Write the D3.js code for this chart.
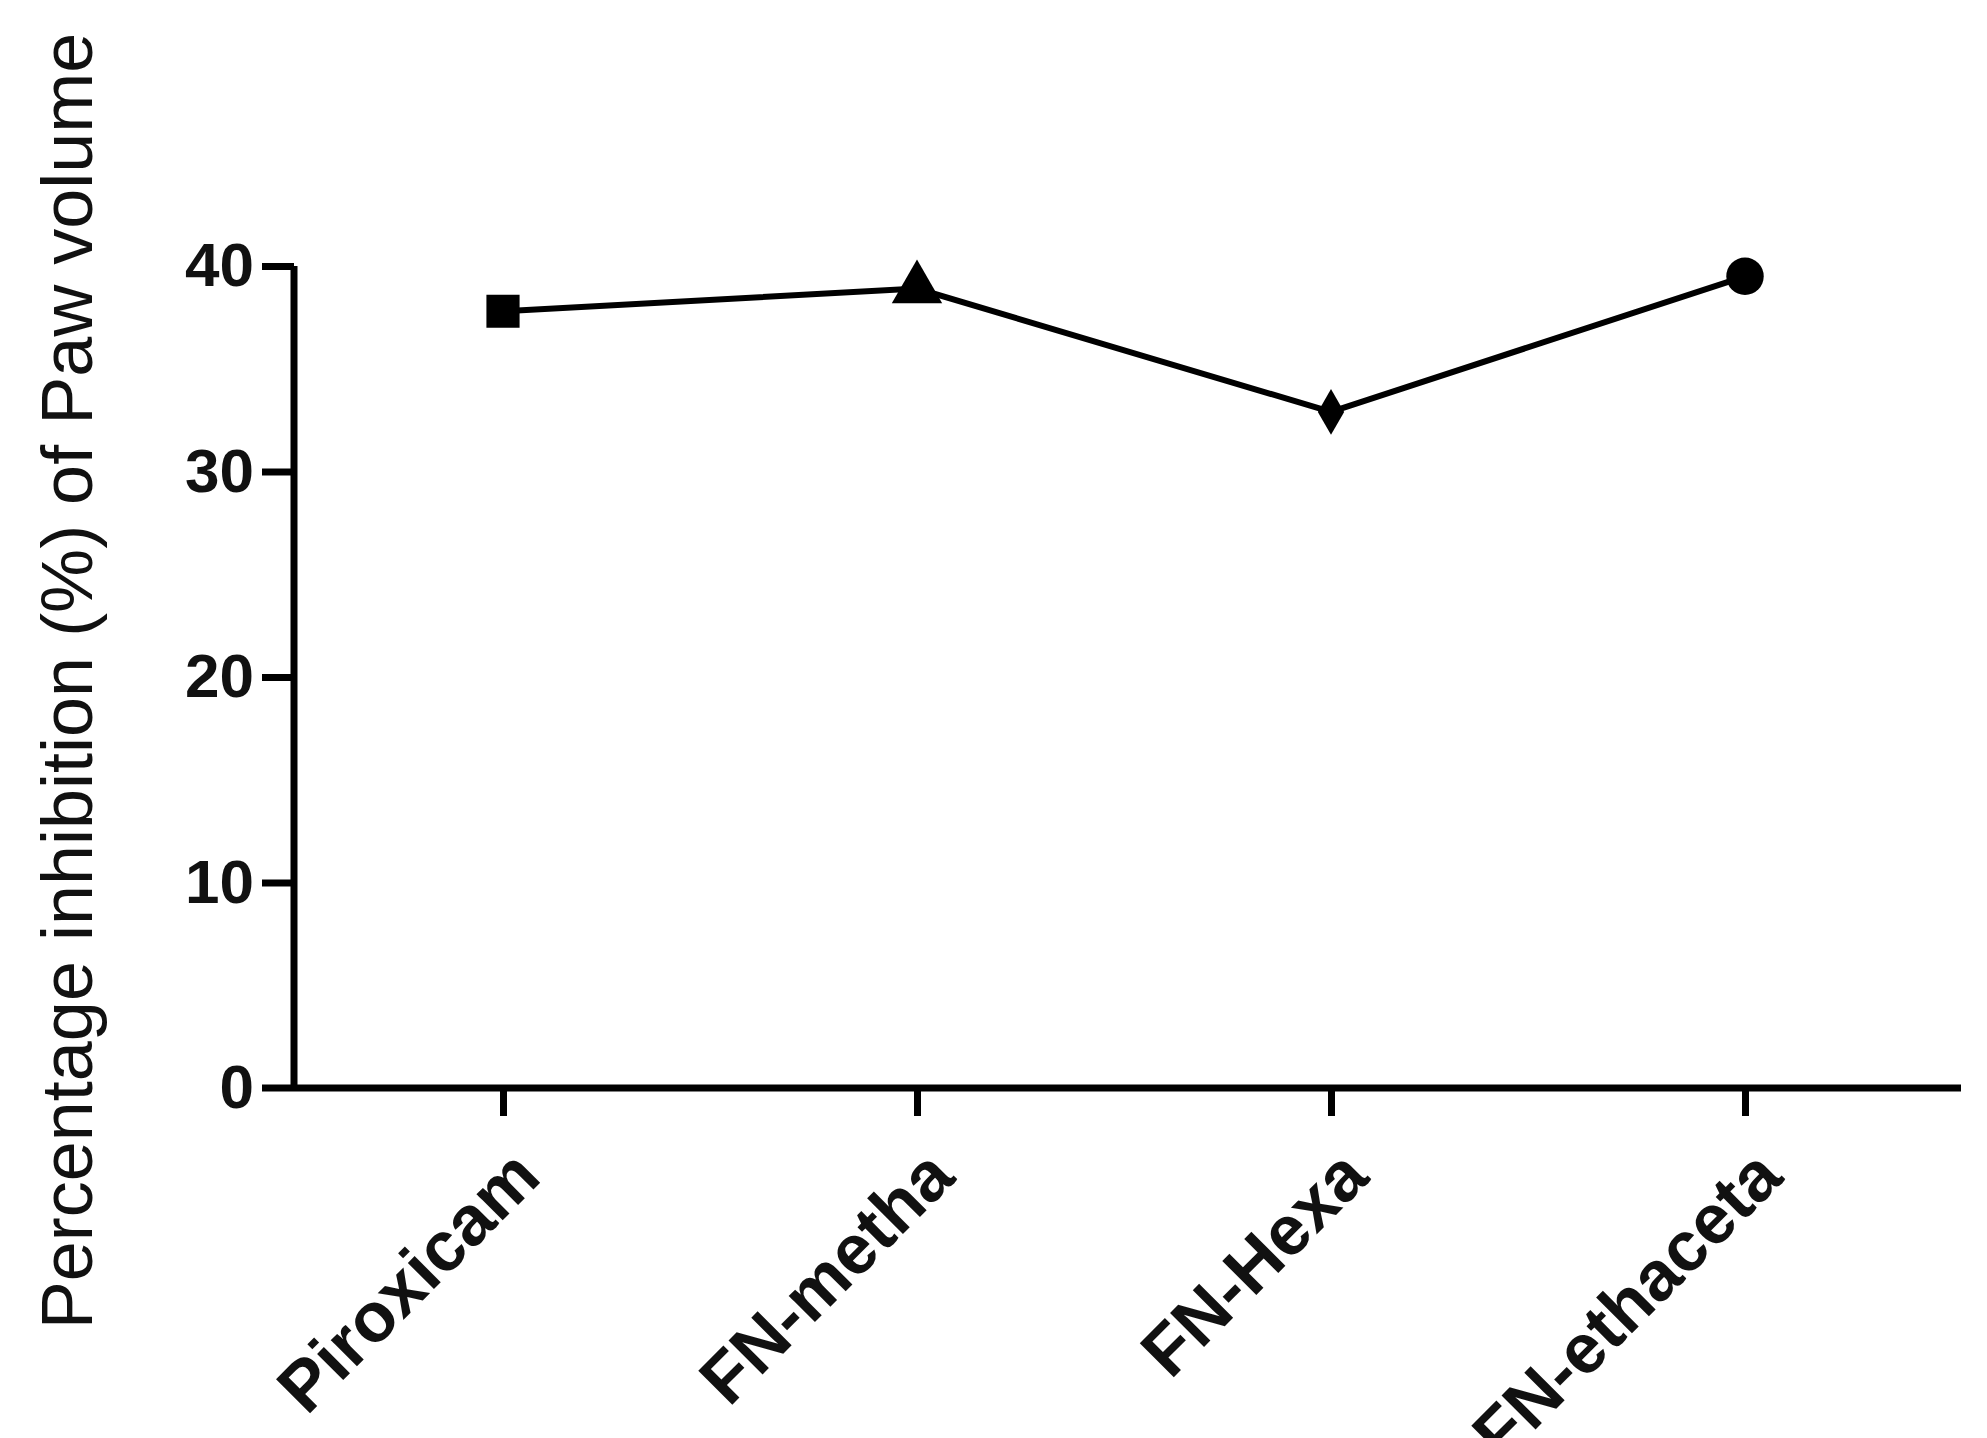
<!DOCTYPE html>
<html><head><meta charset="utf-8">
<script src="https://cdn.jsdelivr.net/npm/d3@7"></script>
<style>body{margin:0;background:#fff}text{font-family:"Liberation Sans",Arial,sans-serif}</style>
</head><body>
<script>
const categories = ['Piroxicam', 'FN-metha', 'FN-Hexa', 'FN-ethaceta']
const values = [37.8, 38.9, 32.9, 39.5]
const shapes = ['square', 'triangle', 'diamond', 'circle']
const yTicks = [0, 10, 20, 30, 40]

const W = 1987, H = 1438
const svg = d3.select('body').append('svg').attr('width', W).attr('height', H)

const x = d3.scalePoint().domain(categories).range([503, 1745])
const y = d3.scaleLinear().domain([0, 40]).range([1088, 266])

// axes
svg.append('line').attr('x1', 294).attr('x2', 294).attr('y1', y(40)).attr('y2', y(0))
  .attr('stroke', '#000').attr('stroke-width', 7)
svg.append('line').attr('x1', 262).attr('x2', 1961).attr('y1', y(0)).attr('y2', y(0))
  .attr('stroke', '#000').attr('stroke-width', 7)

const ya = svg.append('g').attr('transform', 'translate(294,0)')
  .call(d3.axisLeft(y).tickValues(yTicks).tickSize(32).tickPadding(8))
ya.select('.domain').remove()
ya.selectAll('line').attr('stroke-width', 7)
ya.selectAll('text').attr('font-size', 62).attr('font-weight', 'bold').attr('fill', '#111')
ya.select('.tick:first-of-type line').remove()

const xa = svg.append('g').attr('transform', `translate(0,${y(0)})`)
  .call(d3.axisBottom(x).tickSize(28).tickPadding(0))
xa.select('.domain').remove()
xa.selectAll('line').attr('stroke-width', 7)
xa.selectAll('text').attr('font-size', 70).attr('font-weight', 'bold').attr('fill', '#111')
  .attr('text-anchor', 'end').attr('dy', 0)
  .attr('transform', 'translate(20,72) rotate(-45)')

// y label
svg.append('text').attr('transform', `translate(92,681) rotate(-90)`)
  .attr('text-anchor', 'middle').attr('font-size', 72).attr('fill', '#111')
  .text('Percentage inhibition (%) of Paw volume')

// line
svg.append('path').datum(values)
  .attr('d', d3.line().x((d, i) => x(categories[i])).y(d => y(d)))
  .attr('fill', 'none').attr('stroke', '#000').attr('stroke-width', 6)

const sym = { square: d3.symbolSquare, triangle: d3.symbolTriangle, diamond: d3.symbolDiamond, circle: d3.symbolCircle }
svg.selectAll('.pt').data(values).enter().append('path')
  .attr('transform', (d, i) => `translate(${x(categories[i])},${y(d)})`)
  .attr('d', (d, i) => d3.symbol().type(sym[shapes[i]]).size(shapes[i] === 'diamond' ? 600 : 1100)())
  .attr('fill', '#000')
</script>
</body></html>
